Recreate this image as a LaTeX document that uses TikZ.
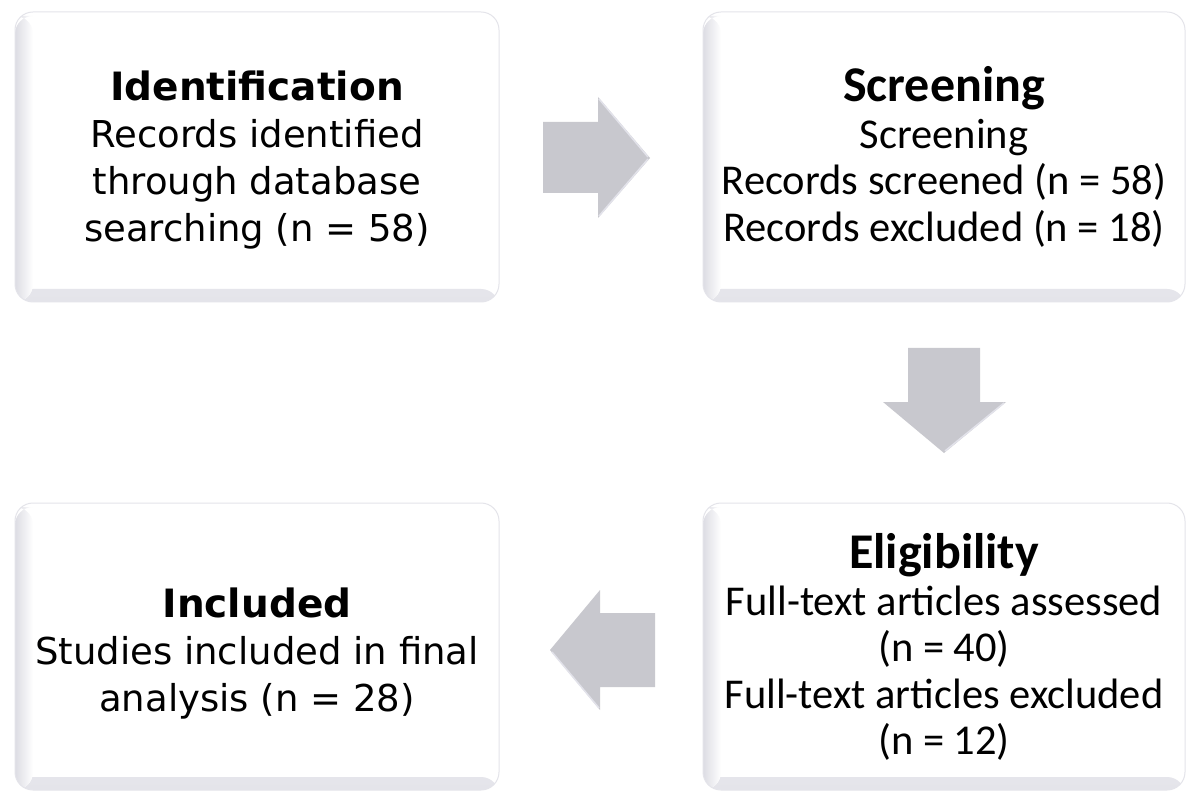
\documentclass[tikz,border=0pt]{standalone}
\usepackage{fontspec}
\newfontfamily\vfont{DejaVu Sans}
\newfontfamily\cfont{Carlito}
\definecolor{arrowgray}{HTML}{C8C8CE}
\definecolor{arrowlight}{HTML}{E2E2EA}
\definecolor{boxedge}{HTML}{E4E4EA}
\definecolor{boxshade}{HTML}{DCDCE3}
\definecolor{boxshadeb}{HTML}{E4E4EA}
\tikzset{
  stagebox/.style={rounded corners=18pt, fill=white, draw=boxedge, line width=1pt,
    minimum width=484pt, minimum height=290pt, inner sep=0pt,
    path picture={
      \fill[bottom color=boxshadeb, top color=white]
        (path picture bounding box.south west) rectangle ([yshift=13pt]path picture bounding box.south east);
      \fill[left color=boxshade, right color=white]
        (path picture bounding box.south west) rectangle ([xshift=18pt,yshift=-4pt]path picture bounding box.north west);
    }},
  vtext/.style={align=center, inner sep=0pt, font={\vfont\fontsize{37}{47}\selectfont}},
  ctext/.style={align=center, inner sep=0pt, font={\cfont\fontsize{42.5}{46.5}\selectfont}},
  blockarrow/.style={fill=arrowgray, draw=none},
  bevel/.style={draw=arrowlight, line width=1.5pt},
}
\newcommand{\chd}[1]{{\bfseries\fontsize{50}{46.5}\selectfont #1}}
\newcommand{\vhd}[1]{{\bfseries\fontsize{39}{47}\selectfont #1}}
\begin{document}
\begin{tikzpicture}[x=1pt, y=-1pt]
  \fill[white] (0,0) rectangle (1188,791);
  \useasboundingbox (0,0) rectangle (1188,791);

  % boxes
  \node[stagebox] (b1) at (257,157) {};
  \node[stagebox, minimum width=482pt] (b2) at (944,157) {};
  \node[stagebox, minimum width=482pt, minimum height=287pt] (b3) at (944,646.5) {};
  \node[stagebox, minimum height=287pt] (b4) at (257,646.5) {};

  % texts
  \node[vtext] (t1) at (257,160) {\vhd{Identification}\\Records identified\\through database\\searching (n = 58)};
  \node[ctext] (t2) at (944,157) {\chd{Screening}\\Screening\\Records screened (n = 58)\\Records excluded (n = 18)};
  \node[ctext] (t3) at (944,647) {\chd{Eligibility}\\Full-text articles assessed\\(n = 40)\\Full-text articles excluded\\(n = 12)};
  \node[vtext] (t4) at (257,654) {\vhd{Included}\\Studies included in final\\analysis (n = 28)};

  % right arrow
  \fill[blockarrow] (543,122) -- (598,122) -- (598,97) -- (650,158) -- (598,218) -- (598,193) -- (543,193) -- cycle;
  \draw[bevel] (599,99) -- (648,157);
  \draw[bevel] (648,159) -- (599,216);
  % down arrow
  \fill[blockarrow] (908,348) -- (980,348) -- (980,402) -- (1006,402) -- (944,453) -- (883,402) -- (908,402) -- cycle;
  \draw[bevel] (1004,403) -- (945,451);
  % left arrow
  \fill[blockarrow] (655,613) -- (600,613) -- (600,590) -- (550,650) -- (600,710) -- (600,687) -- (655,687) -- cycle;
  \draw[bevel] (552,652) -- (599,708);
\end{tikzpicture}
\end{document}
